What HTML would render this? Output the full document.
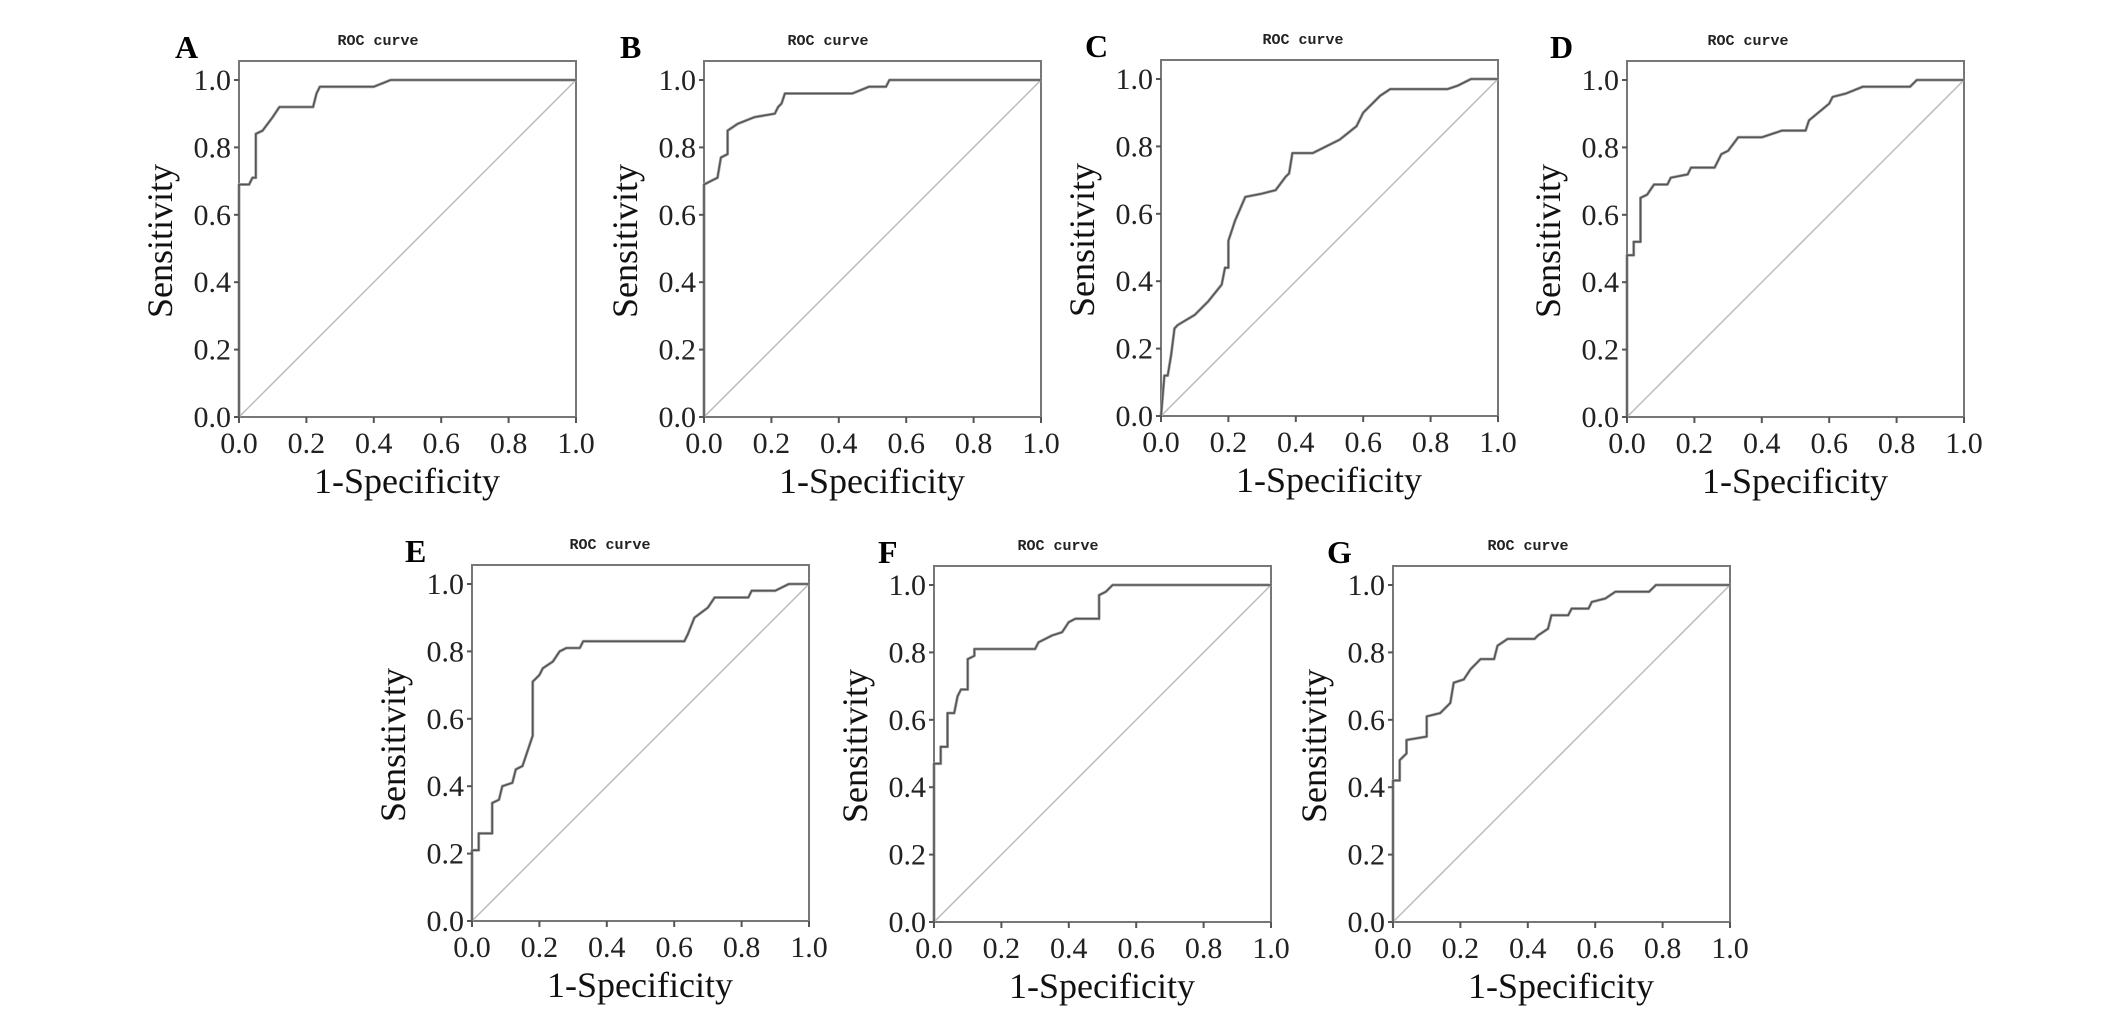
<!DOCTYPE html>
<html><head><meta charset="utf-8"><style>
html,body{margin:0;padding:0;background:#fff;}
svg{display:block;}
</style></head><body>
<svg id="fig" width="2126" height="1012" viewBox="0 0 2126 1012" xmlns="http://www.w3.org/2000/svg"></svg>
<script>
const panelLetters = ["A","B","C","D","E","F","G"];
const tickValues = [0,0.2,0.4,0.6,0.8,1.0];
const tickLabels = ["0.0","0.2","0.4","0.6","0.8","1.0"];
const fprA = [0,0,0.03,0.04,0.05,0.05,0.07,0.1,0.12,0.2,0.22,0.23,0.24,0.4,0.45,1];
const tprA = [0,0.69,0.69,0.71,0.71,0.84,0.85,0.89,0.92,0.92,0.92,0.96,0.98,0.98,1,1];
const fprB = [0,0,0.04,0.05,0.07,0.07,0.1,0.15,0.21,0.22,0.23,0.24,0.3,0.44,0.49,0.54,0.55,1];
const tprB = [0,0.69,0.71,0.77,0.78,0.85,0.87,0.89,0.9,0.92,0.93,0.96,0.96,0.96,0.98,0.98,1,1];
const fprC = [0,0.01,0.02,0.03,0.04,0.05,0.1,0.14,0.18,0.19,0.2,0.2,0.22,0.25,0.3,0.34,0.37,0.38,0.39,0.45,0.53,0.58,0.6,0.65,0.68,0.85,0.88,0.92,1];
const tprC = [0,0.12,0.12,0.18,0.26,0.27,0.3,0.34,0.39,0.44,0.44,0.52,0.58,0.65,0.66,0.67,0.71,0.72,0.78,0.78,0.82,0.86,0.9,0.95,0.97,0.97,0.98,1,1];
const fprD = [0,0,0.02,0.02,0.04,0.04,0.06,0.08,0.12,0.13,0.18,0.19,0.26,0.28,0.3,0.33,0.4,0.46,0.53,0.54,0.6,0.61,0.65,0.7,0.84,0.86,1];
const tprD = [0,0.48,0.48,0.52,0.52,0.65,0.66,0.69,0.69,0.71,0.72,0.74,0.74,0.78,0.79,0.83,0.83,0.85,0.85,0.88,0.93,0.95,0.96,0.98,0.98,1,1];
const fprE = [0,0,0.02,0.02,0.06,0.06,0.08,0.09,0.12,0.13,0.15,0.17,0.18,0.18,0.2,0.21,0.24,0.26,0.28,0.32,0.33,0.63,0.64,0.66,0.7,0.72,0.82,0.83,0.9,0.94,1];
const tprE = [0,0.21,0.21,0.26,0.26,0.35,0.36,0.4,0.41,0.45,0.46,0.52,0.55,0.71,0.73,0.75,0.77,0.8,0.81,0.81,0.83,0.83,0.85,0.9,0.93,0.96,0.96,0.98,0.98,1,1];
const fprF = [0,0,0.02,0.02,0.04,0.04,0.06,0.07,0.08,0.1,0.1,0.12,0.12,0.3,0.31,0.35,0.38,0.4,0.42,0.49,0.49,0.51,0.53,1];
const tprF = [0,0.47,0.47,0.52,0.52,0.62,0.62,0.67,0.69,0.69,0.78,0.79,0.81,0.81,0.83,0.85,0.86,0.89,0.9,0.9,0.97,0.98,1,1];
const fprG = [0,0,0.02,0.02,0.04,0.04,0.1,0.1,0.14,0.17,0.18,0.21,0.23,0.26,0.3,0.31,0.34,0.42,0.43,0.46,0.47,0.52,0.53,0.58,0.59,0.63,0.66,0.76,0.78,1];
const tprG = [0,0.42,0.42,0.48,0.5,0.54,0.55,0.61,0.62,0.65,0.71,0.72,0.75,0.78,0.78,0.82,0.84,0.84,0.85,0.87,0.91,0.91,0.93,0.93,0.95,0.96,0.98,0.98,1,1];
const fprAll = [fprA,fprB,fprC,fprD,fprE,fprF,fprG];
const tprAll = [tprA,tprB,tprC,tprD,tprE,tprF,tprG];

// layout (pixels): plot origin x, y of 1.0, letter offset, title offset
const layout = [
  {x0:239,y1:80,lx:-64,tx:139},
  {x0:704,y1:80,lx:-84,tx:124},
  {x0:1161,y1:79,lx:-76,tx:142},
  {x0:1627,y1:80,lx:-77,tx:121},
  {x0:472,y1:584,lx:-67,tx:138},
  {x0:934,y1:585,lx:-56,tx:124},
  {x0:1393,y1:585,lx:-66,tx:135}
];
const S = 337;
const NS = "http://www.w3.org/2000/svg";
const svg = document.getElementById("fig");
function mk(tag, attrs, parent, text){
  const e = document.createElementNS(NS, tag);
  for (const k in attrs) e.setAttribute(k, attrs[k]);
  if (text !== undefined) e.textContent = text;
  parent.appendChild(e);
  return e;
}
layout.forEach((L, i) => {
  const xs = v => L.x0 + v * S;
  const ys = v => L.y1 + S - v * S;
  const g = mk("g", {}, svg);
  
  
  const top = L.y1 - 19;
  const box = mk("rect", {x:L.x0, y:top, width:S, height:ys(0)-top, fill:"none", stroke:"#777", "stroke-width":2}, g);
  
  
  const diag = mk("line", {x1:xs(0), y1:ys(0), x2:xs(1), y2:ys(1), stroke:"#bbb", "stroke-width":1.5}, g);
  
  
  const fx = fprAll[i], ty = tprAll[i];
  const pts = fx.map((v, k) => xs(v).toFixed(1) + "," + ys(ty[k]).toFixed(1)).join(" ");
  const smooth = mk("polyline", {points:pts, fill:"none", stroke:"#aaa", "stroke-width":3, "stroke-linejoin":"round"}, g);
  
  
  const curve = mk("polyline", {points:pts, fill:"none", stroke:"#555", "stroke-width":1.6}, g);
  
  
  tickValues.forEach((t, k) => {
    const yt = mk("line", {x1:L.x0-5, y1:ys(t), x2:L.x0, y2:ys(t), stroke:"#555", "stroke-width":2}, g);
    
    
    const yl = mk("text", {x:L.x0-8, y:ys(t)+10, "text-anchor":"end", "font-family":"Liberation Serif, serif", "font-size":30, fill:"#222"}, g, tickLabels[k]);
    
    
    const xt = mk("line", {x1:xs(t), y1:ys(0), x2:xs(t), y2:ys(0)+6, stroke:"#555", "stroke-width":2}, g);
    
    
    const xl = mk("text", {x:xs(t), y:ys(0)+36, "text-anchor":"middle", "font-family":"Liberation Serif, serif", "font-size":30, fill:"#222"}, g, tickLabels[k]);
    
    
  });
  const cy = (ys(0) + top) / 2;
  const yTitle = mk("text", {x:0, y:0, transform:"translate(" + (L.x0-67) + "," + (cy+2) + ") rotate(-90)", "text-anchor":"middle", "font-family":"Liberation Serif, serif", "font-size":36, fill:"#111"}, g, "Sensitivity");
  
  
  const xTitle = mk("text", {x:L.x0+168, y:ys(0)+76, "text-anchor":"middle", "font-family":"Liberation Serif, serif", "font-size":36, fill:"#111"}, g, "1-Specificity");
  
  
  const letter = mk("text", {x:L.x0+L.lx, y:L.y1-22, "font-family":"Liberation Serif, serif", "font-size":32, "font-weight":"bold", fill:"#000"}, g, panelLetters[i]);
  
  
  const title = mk("text", {x:L.x0+L.tx, y:L.y1-35, "text-anchor":"middle", "font-family":"Liberation Mono, monospace", "font-size":15, "font-weight":"bold", fill:"#222"}, g, "ROC curve");
  
  
});
</script>
</body></html>
